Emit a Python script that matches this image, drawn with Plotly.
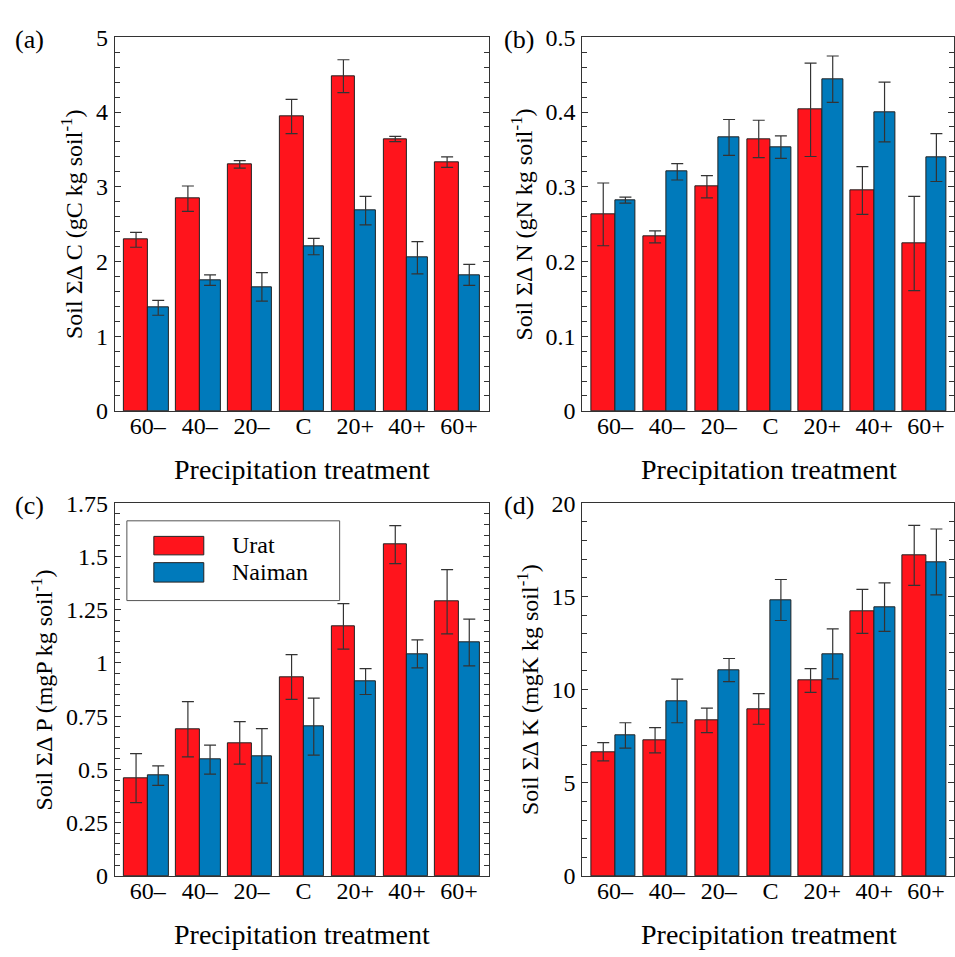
import plotly.graph_objects as go

W, H = 955, 957

categories = ["60–", "40–", "20–", "C", "20+", "40+", "60+"]

# Panel (a) Soil ΣΔ C
c_urat = [2.29, 2.84, 3.30, 3.94, 4.48, 3.64, 3.33]
c_urat_err = [0.10, 0.17, 0.05, 0.23, 0.22, 0.035, 0.07]
c_naiman = [1.38, 1.75, 1.66, 2.20, 2.68, 2.05, 1.82]
c_naiman_err = [0.10, 0.07, 0.19, 0.11, 0.19, 0.215, 0.14]

# Panel (b) Soil ΣΔ N
n_urat = [0.263, 0.233, 0.300, 0.364, 0.403, 0.295, 0.224]
n_urat_err = [0.042, 0.008, 0.015, 0.025, 0.0625, 0.032, 0.063]
n_naiman = [0.282, 0.320, 0.366, 0.353, 0.444, 0.400, 0.339]
n_naiman_err = [0.004, 0.011, 0.024, 0.015, 0.031, 0.040, 0.032]

# Panel (c) Soil ΣΔ P
p_urat = [0.459, 0.689, 0.625, 0.934, 1.172, 1.556, 1.288]
p_urat_err = [0.115, 0.13, 0.10, 0.105, 0.107, 0.089, 0.151]
p_naiman = [0.471, 0.546, 0.564, 0.701, 0.913, 1.043, 1.096]
p_naiman_err = [0.046, 0.068, 0.128, 0.134, 0.061, 0.066, 0.11]

# Panel (d) Soil ΣΔ K
k_urat = [6.66, 7.28, 8.35, 8.96, 10.49, 14.20, 17.21]
k_urat_err = [0.49, 0.68, 0.66, 0.82, 0.64, 1.18, 1.61]
k_naiman = [7.54, 9.39, 11.05, 14.81, 11.92, 14.43, 16.85]
k_naiman_err = [0.68, 1.17, 0.62, 1.10, 1.34, 1.30, 1.77]

RED = "rgb(255,20,28)"
BLUE = "rgb(0,122,187)"
FONT = "Liberation Serif, Times New Roman, Times, serif"
AX = "#333333"

panels = [
    dict(u=c_urat, ue=c_urat_err, n=c_naiman, ne=c_naiman_err, ymax=5, dt=1, mdt=0.2,
         yt="Soil ΣΔ C (gC kg soil<sup>-1</sup>)", lab="(a)", xd=(115, 490), yd=(25, 409),
         ytx=72, labx=30, xrange=(-0.636, 6.59)),
    dict(u=n_urat, ue=n_urat_err, n=n_naiman, ne=n_naiman_err, ymax=0.5, dt=0.1, mdt=0.02,
         yt="Soil ΣΔ N (gN kg soil<sup>-1</sup>)", lab="(b)", xd=(583, 955), yd=(25, 409),
         ytx=523, labx=520, xrange=(-0.63, 6.54)),
    dict(u=p_urat, ue=p_urat_err, n=p_naiman, ne=p_naiman_err, ymax=1.75, dt=0.25, mdt=0.05,
         yt="Soil ΣΔ P (mgP kg soil<sup>-1</sup>)", lab="(c)", xd=(115, 490), yd=(504, 887),
         ytx=42, labx=30, xrange=(-0.636, 6.59)),
    dict(u=k_urat, ue=k_urat_err, n=k_naiman, ne=k_naiman_err, ymax=20, dt=5, mdt=1,
         yt="Soil ΣΔ K (mgK kg soil<sup>-1</sup>)", lab="(d)", xd=(583, 955), yd=(504, 887),
         ytx=528, labx=520, xrange=(-0.63, 6.54)),
]

fig = go.Figure()
xpos = list(range(len(categories)))
annotations = []
shapes = []

for i, p in enumerate(panels, start=1):
    xa = "x" if i == 1 else f"x{i}"
    ya = "y" if i == 1 else f"y{i}"
    err_style = dict(type="data", visible=True, color="#333333", thickness=1.2, width=6)
    fig.add_trace(go.Bar(
        x=xpos, y=p["u"], xaxis=xa, yaxis=ya, name="Urat", showlegend=False,
        width=0.455, offset=-0.455,
        marker=dict(color=RED, line=dict(color="#222222", width=1)),
        error_y=dict(array=p["ue"], **err_style),
    ))
    fig.add_trace(go.Bar(
        x=xpos, y=p["n"], xaxis=xa, yaxis=ya, name="Naiman", showlegend=False,
        width=0.40, offset=0.0,
        marker=dict(color=BLUE, line=dict(color="#222222", width=1)),
        error_y=dict(array=p["ne"], **err_style),
    ))
    xd = [p["xd"][0] / W, p["xd"][1] / W]
    yd = [1 - p["yd"][1] / H, 1 - p["yd"][0] / H]
    xkey = "xaxis" if i == 1 else f"xaxis{i}"
    ykey = "yaxis" if i == 1 else f"yaxis{i}"
    fig.update_layout(**{
        xkey: dict(domain=xd, anchor=ya, range=list(p["xrange"]),
                   tickmode="array", tickvals=xpos, ticktext=categories,
                   showline=True, mirror=True, linecolor=AX, linewidth=1.2,
                   ticks="", showgrid=False, zeroline=False,
                   ticklabelstandoff=-7,
                   tickfont=dict(family=FONT, size=24, color="black")),
        ykey: dict(domain=yd, anchor=xa, range=[0, p["ymax"]],
                   tick0=0, dtick=p["dt"], ticks="inside", ticklen=6, tickwidth=1,
                   tickcolor=AX, showline=True, mirror="ticks", linecolor=AX, linewidth=1.2,
                   showgrid=False, zeroline=False, ticklabelstandoff=1,
                   minor=dict(ticks="inside", ticklen=5, dtick=p["mdt"], tick0=0,
                              tickcolor=AX, tickwidth=1, showgrid=False),
                   tickfont=dict(family=FONT, size=24, color="black")),
    })
    ycen = 1 - (p["yd"][0] + p["yd"][1]) / 2 / H
    annotations.append(dict(text=p["yt"], x=p["ytx"] / W, y=ycen, xref="paper", yref="paper",
                            textangle=-90, showarrow=False, xanchor="center", yanchor="middle",
                            font=dict(family=FONT, size=24, color="black")))
    xtit_x = 302 if p["xd"][0] < 300 else 770
    annotations.append(dict(text="Precipitation treatment", x=xtit_x / W,
                            y=1 - (p["yd"][1] + 60) / H, xref="paper", yref="paper",
                            showarrow=False, xanchor="center", yanchor="middle",
                            font=dict(family=FONT, size=28, color="black")))
    annotations.append(dict(text=p["lab"], x=p["labx"] / W, y=1 - (p["yd"][0] + 2) / H,
                            xref="paper", yref="paper", showarrow=False,
                            xanchor="center", yanchor="middle",
                            font=dict(family=FONT, size=26, color="black")))


def px(x):
    return x / W


def py(y):
    return 1 - y / H


# Custom legend inside panel (c)
shapes.append(dict(type="rect", xref="paper", yref="paper", x0=px(127), x1=px(340),
                   y0=py(604), y1=py(522), line=dict(color="#555555", width=1),
                   fillcolor="white", layer="above"))
shapes.append(dict(type="rect", xref="paper", yref="paper", x0=px(154), x1=px(204),
                   y0=py(557), y1=py(538), line=dict(color="#222222", width=1),
                   fillcolor=RED, layer="above"))
shapes.append(dict(type="rect", xref="paper", yref="paper", x0=px(154), x1=px(204),
                   y0=py(585), y1=py(565), line=dict(color="#222222", width=1),
                   fillcolor=BLUE, layer="above"))
annotations.append(dict(text="Urat", x=px(230), y=py(547), xref="paper", yref="paper",
                        showarrow=False, xanchor="left", yanchor="middle",
                        font=dict(family=FONT, size=24, color="black")))
annotations.append(dict(text="Naiman", x=px(230), y=py(575), xref="paper", yref="paper",
                        showarrow=False, xanchor="left", yanchor="middle",
                        font=dict(family=FONT, size=24, color="black")))

fig.update_layout(
    width=W, height=H, margin=dict(l=0, r=0, t=0, b=0),
    paper_bgcolor="white", plot_bgcolor="white",
    barmode="overlay", bargap=0,
    annotations=annotations, shapes=shapes,
    font=dict(family=FONT, color="black"),
)

fig.write_html("out.html")
